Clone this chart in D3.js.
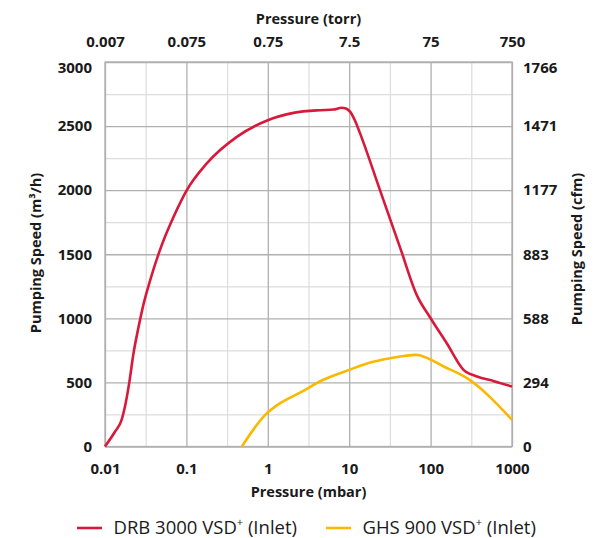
<!DOCTYPE html>
<html>
<head>
<meta charset="utf-8">
<script src="https://cdn.jsdelivr.net/npm/d3@7"></script>
<style>
  html, body { margin: 0; padding: 0; background: #fff; }
  svg { display: block; }
  text { font-family: "Open Sans", "Noto Sans", sans-serif; fill: #1a1a1a; }
</style>
</head>
<body>
<div id="chart"></div>
<script>
// ---- data ----
const mbarTicks = [0.01, 0.1, 1, 10, 100, 1000];
const mbarLabels = ["0.01", "0.1", "1", "10", "100", "1000"];
const torrLabels = ["0.007", "0.075", "0.75", "7.5", "75", "750"];
const speedTicks = [0, 500, 1000, 1500, 2000, 2500, 3000];
const cfmLabels = ["0", "294", "588", "883", "1177", "1471", "1766"];

const drbPressure = [0.01, 0.0133, 0.016, 0.0176, 0.02, 0.0223, 0.0257, 0.0296, 0.0357, 0.0452, 0.0547, 0.063, 0.078, 0.1, 0.178, 0.416, 1, 2.07, 4.4, 6.4, 8.1, 9.1, 10.3, 11.8, 13.6, 24, 42.3, 67.7, 100, 158, 254, 371, 600, 1000];
const drbSpeed    = [0, 117, 208, 312, 510, 720, 925, 1105, 1292, 1497, 1638, 1730, 1860, 1995, 2209, 2416, 2546, 2603, 2624, 2629, 2643, 2637, 2611, 2542, 2443, 1996, 1550, 1181, 1001, 806, 598, 546, 510, 468];

const ghsPressure = [0.48, 0.93, 1.42, 2.49, 4.6, 10, 18.1, 31.9, 67.7, 78, 145, 280, 1000];
const ghsSpeed    = [0, 247, 338, 420, 515, 598, 655, 689, 715, 707, 624, 533, 208];

const seriesNames = ["DRB 3000 VSD", "GHS 900 VSD"];
const seriesColors = ["#d9193b", "#fbb800"];

// ---- layout ----
const W = 614, H = 538;
const x0 = 105, x1 = 512, y0 = 62, y1 = 446.5;

const svg = d3.select("#chart").append("svg").attr("width", W).attr("height", H);

const x = d3.scaleLog().domain([0.01, 1000]).range([x0, x1]);
const y = d3.scaleLinear().domain([0, 3000]).range([y1, y0]);

const majorGrid = "#b0b0b0", minorGrid = "#dddddd";

// minor grid
const minorX = mbarTicks.slice(0, -1).map(v => v * Math.sqrt(10));
const minorY = d3.range(250, 3000, 500);
svg.append("g").attr("transform", `translate(0,${y1})`)
  .call(d3.axisBottom(x).tickValues(minorX).tickSize(-(y1 - y0)).tickFormat(""))
  .call(g => g.select(".domain").remove())
  .call(g => g.selectAll("line").attr("stroke", minorGrid).attr("stroke-width", 1.2));
svg.append("g").attr("transform", `translate(${x0},0)`)
  .call(d3.axisLeft(y).tickValues(minorY).tickSize(-(x1 - x0)).tickFormat(""))
  .call(g => g.select(".domain").remove())
  .call(g => g.selectAll("line").attr("stroke", minorGrid).attr("stroke-width", 1.2));
// major grid
svg.append("g").attr("transform", `translate(0,${y1})`)
  .call(d3.axisBottom(x).tickValues(mbarTicks).tickSize(-(y1 - y0)).tickFormat(""))
  .call(g => g.select(".domain").remove())
  .call(g => g.selectAll("line").attr("stroke", majorGrid).attr("stroke-width", 1.3));
svg.append("g").attr("transform", `translate(${x0},0)`)
  .call(d3.axisLeft(y).tickValues(speedTicks).tickSize(-(x1 - x0)).tickFormat(""))
  .call(g => g.select(".domain").remove())
  .call(g => g.selectAll("line").attr("stroke", majorGrid).attr("stroke-width", 1.3));
svg.append("rect").attr("x", x0).attr("y", y0).attr("width", x1 - x0).attr("height", y1 - y0)
  .attr("fill", "none").attr("stroke", majorGrid).attr("stroke-width", 1.3);

// ---- lines ----
const line = d3.line().x(d => x(d[0])).y(d => y(d[1])).curve(d3.curveMonotoneX);
const drb = drbPressure.map((p, i) => [p, drbSpeed[i]]);
const ghs = ghsPressure.map((p, i) => [p, ghsSpeed[i]]);
svg.append("path").datum(ghs).attr("d", line).attr("fill", "none")
  .attr("stroke", seriesColors[1]).attr("stroke-width", 2.6).attr("stroke-linejoin", "round");
svg.append("path").datum(drb).attr("d", line).attr("fill", "none")
  .attr("stroke", seriesColors[0]).attr("stroke-width", 2.6).attr("stroke-linejoin", "round");

// ---- axes labels ----
const tickFont = g => g.selectAll("text")
  .style("font-size", "15px").style("font-weight", 700).attr("fill", "#1a1a1a");

svg.append("g").attr("transform", `translate(0,${y1})`)
  .call(d3.axisBottom(x).tickValues(mbarTicks).tickSize(0).tickPadding(17)
    .tickFormat((d, i) => mbarLabels[i]))
  .call(g => g.select(".domain").remove())
  .call(tickFont);

svg.append("g").attr("transform", `translate(0,${y0})`)
  .call(d3.axisTop(x).tickValues(mbarTicks).tickSize(0).tickPadding(15)
    .tickFormat((d, i) => torrLabels[i]))
  .call(g => g.select(".domain").remove())
  .call(tickFont);

svg.append("g").attr("transform", `translate(${x0},0)`)
  .call(d3.axisLeft(y).tickValues(speedTicks).tickSize(0).tickPadding(13).tickFormat(d3.format("d")))
  .call(g => g.select(".domain").remove())
  .call(tickFont)
  .call(g => g.selectAll(".tick").filter(d => d === 3000).select("text").attr("dy", "0.68em"));

svg.append("g").attr("transform", `translate(${x1},0)`)
  .call(d3.axisRight(y).tickValues(speedTicks).tickSize(0).tickPadding(11)
    .tickFormat((d, i) => cfmLabels[i]))
  .call(g => g.select(".domain").remove())
  .call(tickFont)
  .call(g => g.selectAll(".tick").filter(d => d === 3000).select("text").attr("dy", "0.68em"));

// ---- titles ----
const title = (t) => t.style("font-size", "14.5px").style("font-weight", 700).attr("text-anchor", "middle");
svg.append("text").attr("x", (x0 + x1) / 2).attr("y", 23.5).text("Pressure (torr)").call(title);
svg.append("text").attr("x", (x0 + x1) / 2).attr("y", 497).text("Pressure (mbar)").call(title);
svg.append("text").attr("transform", "translate(40.5,253) rotate(-90)").text("Pumping Speed (m³/h)").call(title);
svg.append("text").attr("transform", "translate(582,249) rotate(-90)").text("Pumping Speed (cfm)").call(title);

// ---- legend ----
const legendX = [77, 326];
seriesNames.forEach((name, i) => {
  const g = svg.append("g").attr("transform", `translate(${legendX[i]},528)`);
  g.append("line").attr("x1", 0).attr("x2", 25).attr("y1", 0).attr("y2", 0)
    .attr("stroke", seriesColors[i]).attr("stroke-width", 2.6);
  const t = g.append("text").attr("x", 36.5).attr("y", 5.5).style("font-size", "18.5px");
  t.append("tspan").text(name);
  t.append("tspan").attr("dy", -7.5).style("font-size", "11px").text("+");
  t.append("tspan").attr("dy", 7.5).text(" (Inlet)");
});
</script>
</body>
</html>
